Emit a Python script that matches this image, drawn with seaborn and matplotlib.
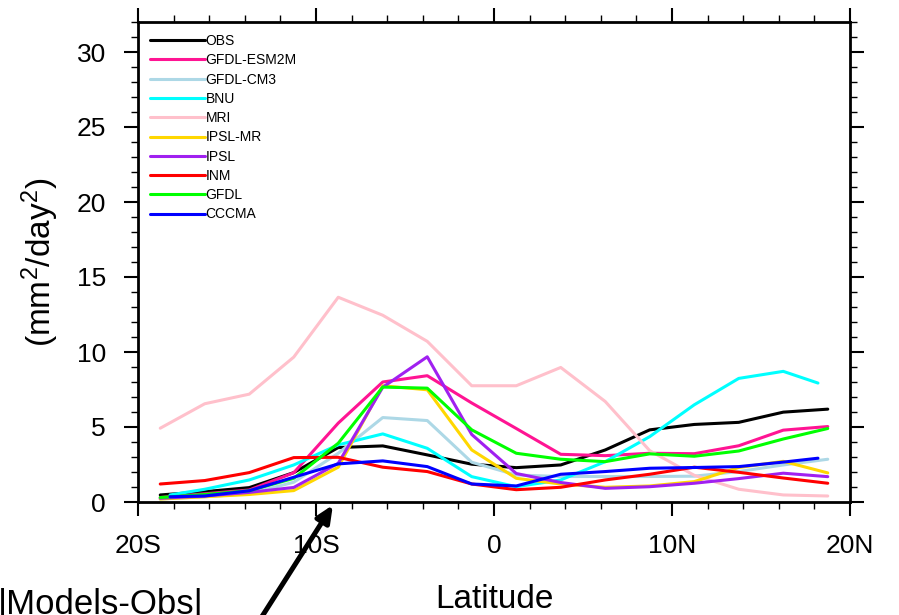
import matplotlib
matplotlib.use("Agg")
import matplotlib.pyplot as plt
from matplotlib.ticker import MultipleLocator, FixedLocator, FixedFormatter
import pandas as pd
import seaborn as sns

# Latitude grids (degrees, negative = south)
LATS = [-18.75, -16.25, -13.75, -11.25, -8.75, -6.25, -3.75, -1.25,
        1.25, 3.75, 6.25, 8.75, 11.25, 13.75, 16.25, 18.75]
LATS_T42 = [-18.2, -16.25, -13.75, -11.25, -8.75, -6.25, -3.75, -1.25,
            1.25, 3.75, 6.25, 8.75, 11.25, 13.75, 16.25, 18.2]

MODELS = ["OBS", "GFDL-ESM2M", "GFDL-CM3", "BNU", "MRI",
          "IPSL-MR", "IPSL", "INM", "GFDL", "CCCMA"]

obs        = [0.47, 0.69, 0.96, 1.96, 3.63, 3.74, 3.14, 2.52, 2.29, 2.47, 3.47, 4.81, 5.17, 5.31, 5.99, 6.19]
gfdl_esm2m = [0.30, 0.55, 0.80, 1.95, 5.26, 8.00, 8.42, 6.60, 4.90, 3.18, 3.09, 3.25, 3.22, 3.75, 4.79, 5.03]
gfdl_cm3   = [0.20, 0.35, 0.55, 1.32, 3.25, 5.63, 5.43, 2.65, 1.80, 1.70, 1.70, 1.70, 1.72, 2.03, 2.47, 2.85]
bnu        = [0.47, 0.85, 1.47, 2.47, 3.81, 4.54, 3.58, 1.69, 1.02, 1.47, 2.69, 4.36, 6.48, 8.24, 8.71, 7.93]
mri        = [4.92, 6.55, 7.19, 9.66, 13.65, 12.45, 10.71, 7.75, 7.75, 8.97, 6.70, 3.42, 1.78, 0.85, 0.47, 0.40]
ipsl_mr    = [0.20, 0.35, 0.50, 0.76, 2.32, 7.75, 7.48, 3.47, 1.58, 1.20, 0.98, 1.07, 1.36, 2.30, 2.71, 1.94]
ipsl       = [0.25, 0.40, 0.64, 0.97, 2.58, 7.65, 9.68, 4.50, 1.90, 1.30, 0.91, 1.02, 1.25, 1.56, 1.92, 1.69]
inm        = [1.20, 1.43, 1.96, 2.96, 2.98, 2.32, 2.03, 1.20, 0.82, 0.98, 1.47, 1.85, 2.32, 1.98, 1.60, 1.25]
gfdl       = [0.30, 0.50, 0.75, 1.58, 3.92, 7.66, 7.59, 4.81, 3.25, 2.85, 2.69, 3.21, 3.05, 3.40, 4.20, 4.90]
cccma      = [0.35, 0.40, 0.75, 1.65, 2.54, 2.74, 2.36, 1.20, 1.07, 1.85, 2.03, 2.25, 2.30, 2.36, 2.66, 2.92]

SERIES = [obs, gfdl_esm2m, gfdl_cm3, bnu, mri, ipsl_mr, ipsl, inm, gfdl, cccma]
GRIDS = [LATS, LATS, LATS, LATS_T42, LATS, LATS, LATS, LATS, LATS, LATS_T42]

COLORS = {
    "OBS": "#000000", "GFDL-ESM2M": "#FF1493", "GFDL-CM3": "#ADD8E6",
    "BNU": "#00FFFF", "MRI": "#FFC0CB", "IPSL-MR": "#FFD700",
    "IPSL": "#A020F0", "INM": "#FF0000", "GFDL": "#00FF00", "CCCMA": "#0000FF",
}

XTICKS = [-20, -10, 0, 10, 20]
XTICKLABELS = ["20S", "10S", "0", "10N", "20N"]
YTICKS = [0, 5, 10, 15, 20, 25, 30]

rows = []
for name, lat, vals in zip(MODELS, GRIDS, SERIES):
    for la, v in zip(lat, vals):
        rows.append({"lat": la, "var": v, "model": name})
df = pd.DataFrame(rows)

sns.set_style("ticks")
plt.rcParams["font.family"] = ["Liberation Sans", "DejaVu Sans"]
plt.rcParams["mathtext.fontset"] = "custom"
plt.rcParams["mathtext.rm"] = "Liberation Sans"
plt.rcParams["mathtext.it"] = "Liberation Sans:italic"
for key in ("text.color", "axes.labelcolor", "xtick.color", "ytick.color",
            "xtick.labelcolor", "ytick.labelcolor"):
    plt.rcParams[key] = "black"

W, H = 899, 615
fig = plt.figure(figsize=(W / 100, H / 100), dpi=100)
ax = fig.add_axes([138 / W, 1 - 502 / H, 712 / W, 480 / H])

sns.lineplot(data=df, x="lat", y="var", hue="model", hue_order=MODELS,
             palette=COLORS, estimator=None, sort=False, linewidth=2.2,
             legend=False, ax=ax)

ax.set_xlim(-20, 20)
ax.set_ylim(0, 32)
ax.xaxis.set_major_locator(FixedLocator(XTICKS))
ax.xaxis.set_major_formatter(FixedFormatter(XTICKLABELS))
ax.xaxis.set_minor_locator(MultipleLocator(2))
ax.yaxis.set_major_locator(FixedLocator(YTICKS))
ax.yaxis.set_minor_locator(MultipleLocator(1))

for sp in ax.spines.values():
    sp.set_visible(True)
    sp.set_linewidth(2.0)
    sp.set_color("black")

ax.tick_params(which="both", direction="out", top=True, right=True,
               labeltop=False, labelright=False, color="black",
               labelcolor="black")
ax.tick_params(which="major", length=10, width=1.5, labelsize=19, pad=13)
ax.tick_params(which="minor", length=5, width=1.0)

ax.set_xlabel("Latitude", fontsize=24, color="black")
ax.set_ylabel(r"(mm$^2$/day$^2$)", fontsize=24, color="black")
ax.xaxis.set_label_coords(0.5, -0.17)
ax.yaxis.set_label_coords(-0.108, 0.5)

leg = ax.legend(ax.lines[:len(MODELS)], MODELS, loc="upper left",
                bbox_to_anchor=(12 / 712, 1 - 12 / 480), frameon=False,
                fontsize=10, handlelength=3.96, handletextpad=0.05,
                labelspacing=0.38, borderpad=0, borderaxespad=0)
for t in leg.get_texts():
    t.set_color("black")

ax.annotate("", xy=(-9.05, -0.2), xycoords="data",
            xytext=(256.6, -10), textcoords="figure pixels",
            annotation_clip=False,
            arrowprops=dict(arrowstyle="-|>,head_length=1.0,head_width=0.45",
                            color="black", lw=3.6, shrinkA=0, shrinkB=0))
fig.text(-2 / W, 1 - 588 / H, "|Models-Obs|", fontsize=25, ha="left",
         va="top", color="black")

fig.savefig("out.png", dpi=100)
